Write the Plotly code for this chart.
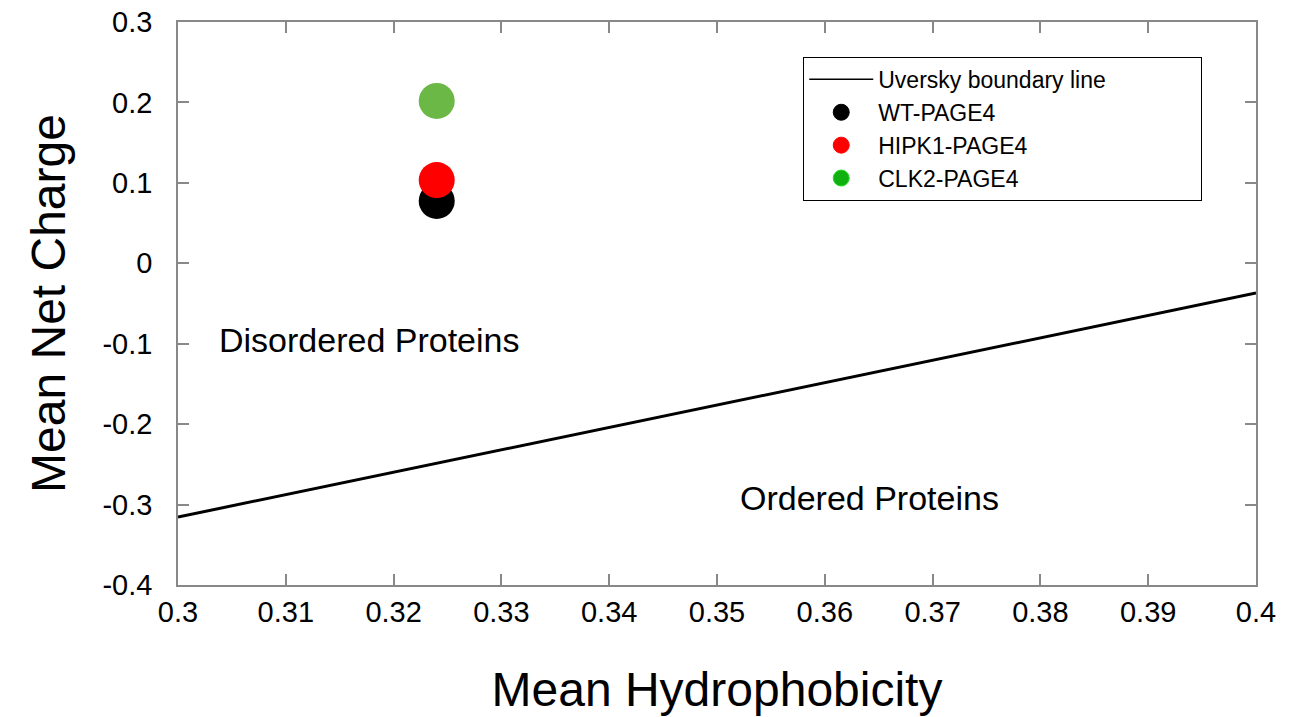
import plotly.graph_objects as go

# Data
proteins = ["WT-PAGE4", "HIPK1-PAGE4", "CLK2-PAGE4"]
hydrophobicity = [0.324, 0.324, 0.324]
net_charge = [0.0775, 0.1035, 0.2018]
point_colors = ["#000000", "#ff0000", "#6cb846"]
legend_colors = ["#000000", "#ff0000", "#11b011"]

boundary_h = [0.3, 0.4]
boundary_r = [2.785 * h - 1.151 for h in boundary_h]

x_ticks = [0.3, 0.31, 0.32, 0.33, 0.34, 0.35, 0.36, 0.37, 0.38, 0.39, 0.4]
x_ticklabels = ["0.3", "0.31", "0.32", "0.33", "0.34", "0.35", "0.36", "0.37", "0.38", "0.39", "0.4"]
y_ticks = [-0.4, -0.3, -0.2, -0.1, 0, 0.1, 0.2, 0.3]
y_ticklabels = ["-0.4", "-0.3", "-0.2", "-0.1", "0", "0.1", "0.2", "0.3"]

FONT = "Liberation Sans, Arial, Helvetica, sans-serif"

fig = go.Figure()

# boundary line on the chart
fig.add_trace(go.Scatter(
    x=boundary_h, y=boundary_r, mode="lines",
    line=dict(color="black", width=3),
    name="Uversky boundary line", showlegend=False,
))
# legend entry for the boundary line (thin line as in the original legend)
fig.add_trace(go.Scatter(
    x=[None], y=[None], mode="lines",
    line=dict(color="black", width=1.5),
    name="Uversky boundary line" + "\u00a0" * 14, showlegend=True,
))

for name, x, y, c in zip(proteins, hydrophobicity, net_charge, point_colors):
    fig.add_trace(go.Scatter(
        x=[x], y=[y], mode="markers",
        marker=dict(color=c, size=36, line=dict(width=0)),
        name=name, showlegend=False,
    ))
for name, lc in zip(proteins, legend_colors):
    fig.add_trace(go.Scatter(
        x=[None], y=[None], mode="markers",
        marker=dict(color=lc, size=24,
                    line=dict(width=1, color="#22dd22" if lc == "#11b011" else lc)),
        name=name, showlegend=True,
    ))

fig.add_annotation(x=0.3177, y=-0.0954, text="Disordered Proteins", showarrow=False,
                   font=dict(size=34, color="black", family=FONT))
fig.add_annotation(x=0.3641, y=-0.292, text="Ordered Proteins", showarrow=False,
                   font=dict(size=34, color="black", family=FONT))

axis_common = dict(
    showgrid=False, zeroline=False, showline=True, linecolor="#888888", linewidth=1.5,
    mirror="ticks", ticks="inside", ticklen=11, tickcolor="#888888", tickwidth=1.5,
    tickfont=dict(size=29, color="black", family=FONT), automargin=False,
)

fig.update_xaxes(
    range=[0.3, 0.4],
    tickvals=x_ticks, ticktext=x_ticklabels,
    title=dict(text="Mean Hydrophobicity", font=dict(size=48, color="black", family=FONT), standoff=46),
    **axis_common,
)
fig.update_yaxes(
    range=[-0.4, 0.3],
    tickvals=y_ticks, ticktext=y_ticklabels,
    title=dict(text="Mean Net Charge", font=dict(size=48, color="black", family=FONT), standoff=22),
    ticklabelstandoff=18,
    **axis_common,
)

fig.update_layout(
    width=1295, height=717,
    margin=dict(l=178, r=39, t=22, b=132, autoexpand=False),
    plot_bgcolor="white", paper_bgcolor="white",
    font=dict(family=FONT, color="black"),
    legend=dict(
        x=0.58, y=0.938, xanchor="left", yanchor="top",
        bordercolor="black", borderwidth=1, bgcolor="white",
        font=dict(size=23, color="black", family=FONT),
        itemsizing="trace", itemwidth=64, tracegroupgap=0,
    ),
)

fig.write_html("out.html")
